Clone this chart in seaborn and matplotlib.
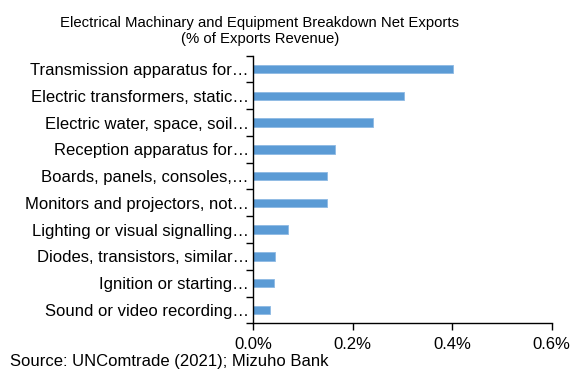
import matplotlib
matplotlib.use("Agg")
import matplotlib.pyplot as plt
import seaborn as sns
import pandas as pd
from matplotlib.ticker import FuncFormatter, FixedLocator

categories = [
    "Transmission apparatus for…",
    "Electric transformers, static…",
    "Electric water, space, soil…",
    "Reception apparatus for…",
    "Boards, panels, consoles,…",
    "Monitors and projectors, not…",
    "Lighting or visual signalling…",
    "Diodes, transistors, similar…",
    "Ignition or starting…",
    "Sound or video recording…",
]
net_exports_pct = [0.402, 0.304, 0.242, 0.164, 0.148, 0.148, 0.070, 0.0435, 0.042, 0.0335]
x_ticks = [0.0, 0.2, 0.4, 0.6]

sns.set_theme(style="white")
plt.rcParams["font.family"] = ["Liberation Sans", "DejaVu Sans"]

df = pd.DataFrame({"category": categories, "value": net_exports_pct})

fig = plt.figure(figsize=(5.81, 3.70), dpi=100)
ax = fig.add_axes([0.4355, 0.1262, 0.9496 - 0.4355, 0.8495 - 0.1262])

sns.barplot(data=df, x="value", y="category", orient="h", color="#5B9BD5",
            saturation=1, width=0.32, edgecolor="#8DB9E4", linewidth=0.6, ax=ax)

ax.set_xlim(0, 0.6)
ax.set_ylim(len(categories) - 0.5, -0.5)
ax.set_xlabel("")
ax.set_ylabel("")
ax.xaxis.set_major_locator(FixedLocator(x_ticks))
ax.xaxis.set_major_formatter(FuncFormatter(lambda v, _: f"{v:.1f}%"))

# y ticks at category boundaries, labels centred on each bar
ax.set_yticks([i for i in range(len(categories))])
ax.set_yticklabels(categories)
ax.set_yticks([i - 0.5 for i in range(len(categories) + 1)], minor=True)
ax.tick_params(axis="y", which="major", length=0, pad=3, labelsize=12, colors="black")
ax.tick_params(axis="y", which="minor", length=5, width=1, color="black", direction="out", left=True)
ax.tick_params(axis="x", which="major", length=5, width=1, color="black", direction="out",
               labelsize=12, colors="black", pad=4.5, bottom=True)

for side in ["top", "right"]:
    ax.spines[side].set_visible(False)
for side in ["left", "bottom"]:
    ax.spines[side].set_color("black")
    ax.spines[side].set_linewidth(1)

fig.text(0.447, 0.917, "Electrical Machinary and Equipment Breakdown Net Exports\n(% of Exports Revenue)",
         ha="center", va="center", fontsize=10.7, color="black", linespacing=1.15)
fig.text(0.017, 0.022, "Source: UNComtrade (2021); Mizuho Bank",
         ha="left", va="center", fontsize=12, color="black")

fig.savefig("out.png", dpi=100)
